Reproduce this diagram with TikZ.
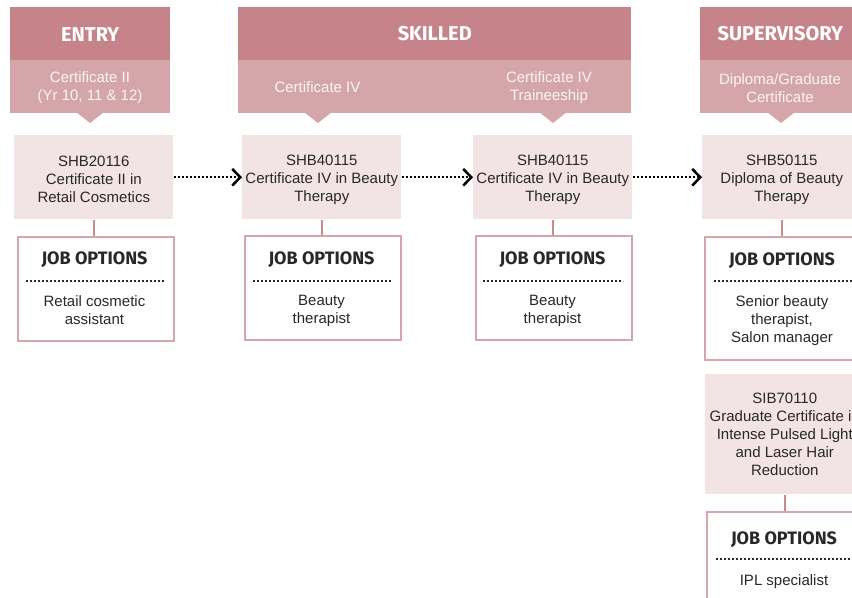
\documentclass[tikz,border=0pt]{standalone}
\usepackage{fontspec}
\setmainfont{Liberation Sans}
\newfontfamily\headfont{Fira Sans}
\usetikzlibrary{arrows.meta}
\definecolor{darkband}{RGB}{198,132,138}
\definecolor{lightband}{RGB}{213,166,169}
\definecolor{boxfill}{RGB}{242,228,228}
\definecolor{jobborder}{RGB}{214,166,170}
\definecolor{linkcol}{RGB}{200,137,143}
\definecolor{txt}{RGB}{40,40,40}
\definecolor{subtxt}{RGB}{252,244,244}
\newcommand\lowfix{\rule{0pt}{11pt}}
\begin{document}
\begin{tikzpicture}[x=0.75pt,y=-0.75pt,
  body/.style={font=\fontsize{11.25}{13.5}\selectfont, text=txt, align=center, inner sep=0pt},
  darkhead/.style={fill=darkband, text=white, font=\headfont\bfseries\fontsize{15}{18}\selectfont,
    inner sep=0pt, anchor=north west, minimum height=53*0.75pt},
  lighthead/.style={fill=lightband, inner sep=0pt, anchor=north west, minimum height=53*0.75pt},
  subtext/.style={body, text=subtxt},
  cert/.style={body, fill=boxfill, anchor=north west, minimum width=159*0.75pt},
  jobbox/.style={draw=jobborder, line width=1.5pt, fill=white, anchor=north west,
    inner sep=0pt, minimum width=156*0.75pt},
  jobtitle/.style={font=\headfont\bfseries\fontsize{13.5}{16}\selectfont, text=txt, inner sep=0pt},
  jobtext/.style={body, anchor=north},
  link/.style={draw=linkcol, line width=1.7pt},
  flow/.style={line width=1.5pt, dash pattern=on 1.5pt off 1.5pt,
    -{Straight Barb[length=6pt,width=12.5pt,line width=1.9pt]}},
  sepline/.style={draw=txt, line width=1.2pt, dash pattern=on 1.2pt off 1.8pt},
  pointer/.style={fill=lightband}
]
\useasboundingbox (0,0) rectangle (852,598);
\clip (0,0) rectangle (852,598);

% ---- header bands
\node[darkhead, minimum width=160*0.75pt] (hEntry) at (10,7) {\lowfix ENTRY};
\node[lighthead, minimum width=160*0.75pt] (sEntry) at (10,60) {};
\node[subtext] (sEntryT) at (90,88) {Certificate II\\(Yr 10, 11 \& 12)};
\fill[pointer] (76,112) -- (104,112) -- (90,123) -- cycle;

\node[darkhead, minimum width=393*0.75pt] (hSkilled) at (238,7) {SKILLED};
\node[lighthead, minimum width=393*0.75pt] (sSkilled) at (238,60) {};
\node[subtext] (sSkilledA) at (317.5,87.5) {Certificate IV};
\node[subtext] (sSkilledB) at (549,88) {Certificate IV\\Traineeship};
\fill[pointer] (304,112) -- (332,112) -- (318,123) -- cycle;
\fill[pointer] (539,112) -- (567,112) -- (553,123) -- cycle;

\node[darkhead, minimum width=160*0.75pt] (hSuper) at (700,7) {\lowfix SUPERVISORY};
\node[lighthead, minimum width=160*0.75pt] (sSuper) at (700,60) {};
\node[subtext] (sSuperT) at (780,88) {Diploma/Graduate\\Certificate};
\fill[pointer] (767,112) -- (795,112) -- (781,123) -- cycle;

% ---- certificate boxes
\node[cert, minimum height=84*0.75pt] (c1) at (14,135) {\lowfix SHB20116\\Certificate II in\\Retail Cosmetics};
\node[cert, minimum height=84*0.75pt] (c2) at (242,135) {\lowfix SHB40115\\Certificate IV in Beauty\\Therapy};
\node[cert, minimum height=84*0.75pt] (c3) at (473,135) {\lowfix SHB40115\\Certificate IV in Beauty\\Therapy};
\node[cert, minimum height=84*0.75pt] (c4) at (702,135) {\lowfix SHB50115\\Diploma of Beauty\\Therapy};
\node[cert, minimum height=120*0.75pt] (c5) at (705,374) {SIB70110\\Graduate Certificate in\\Intense Pulsed Light\\and Laser Hair\\Reduction};

% ---- job boxes
\node[jobbox, minimum height=103*0.75pt] (j1) at (16.5,236.5) {};
\node[jobbox, minimum height=103*0.75pt] (j2) at (243.5,235.5) {};
\node[jobbox, minimum height=103*0.75pt] (j3) at (475,235.5) {};
\node[jobbox, minimum height=122*0.75pt] (j4) at (704,236.5) {};
\node[jobbox, minimum height=120*0.75pt] (j5) at (706,510.5) {};

% ---- links
\draw[link] (c1.south) -- (c1.south |- j1.north);
\draw[link] (c2.south) -- (c2.south |- j2.north);
\draw[link] (c3.south) -- (c3.south |- j3.north);
\draw[link] (c4.south) -- (c4.south |- j4.north);
\draw[link] (c5.south) -- (c5.south |- j5.north);

% ---- flow arrows
\draw[flow] (c1.east) -- (c2.west);
\draw[flow] (c2.east) -- (c3.west);
\draw[flow] (c3.east) -- (c4.west);

% ---- job contents
\node[jobtitle] (t1) at (94.5,260) {JOB OPTIONS};
\draw[sepline] (26,281) -- (165,281);
\node[jobtext] (b1) at (94.5,295) {Retail cosmetic\\assistant};

\node[jobtitle] (t2) at (321.5,259.5) {JOB OPTIONS};
\draw[sepline] (253,281) -- (392,281);
\node[jobtext] (b2) at (321.5,295) {Beauty\\therapist};

\node[jobtitle] (t3) at (552.5,259.5) {JOB OPTIONS};
\draw[sepline] (483,281) -- (623,281);
\node[jobtext] (b3) at (552.5,295) {Beauty\\therapist};

\node[jobtitle] (t4) at (782,260.5) {JOB OPTIONS};
\draw[sepline] (714,281) -- (855,281);
\node[jobtext] (b4) at (782,295) {Senior beauty\\therapist,\\Salon manager};

\node[jobtitle] (t5) at (784,539.5) {JOB OPTIONS};
\draw[sepline] (716,559) -- (857,559);
\node[jobtext] (b5) at (784,574) {IPL specialist};
\end{tikzpicture}
\end{document}
